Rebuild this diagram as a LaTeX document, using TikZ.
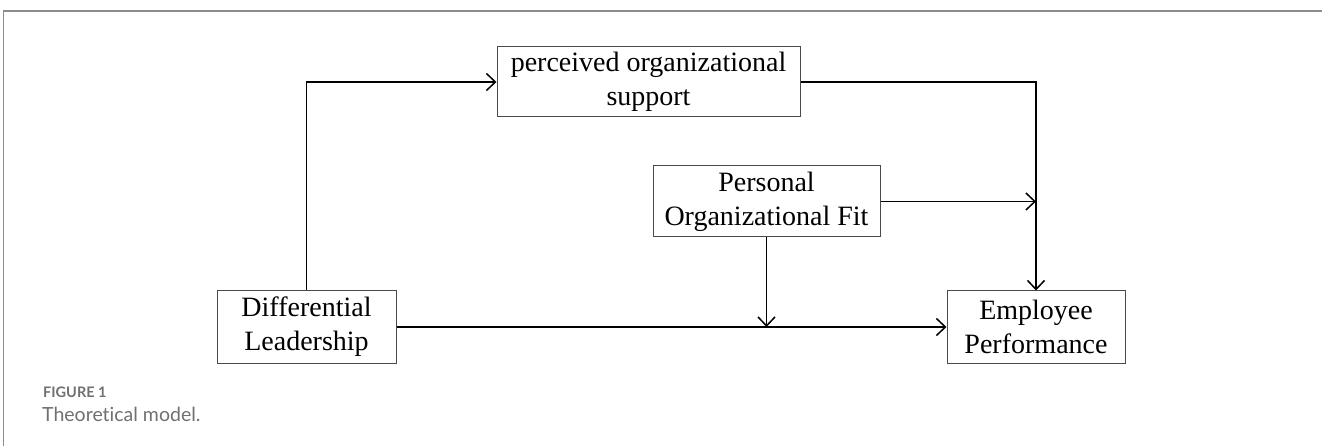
\documentclass[tikz,border=0pt]{standalone}
\usepackage{fontspec}
\setmainfont{Liberation Serif}
\newfontfamily\capfont[Ligatures={NoCommon}]{Lato}
\usetikzlibrary{arrows.meta}
\definecolor{framegray}{HTML}{8C8C8C}
\definecolor{capgray}{HTML}{707070}
\definecolor{boxgray}{HTML}{4A4A4A}
\tikzset{
  box/.style={draw=boxgray, line width=1pt, align=center, inner sep=0pt,
    font=\fontsize{28}{34}\selectfont, text=black},
  arr/.style={draw=black, line width=1.5pt, -{Straight Barb[length=9pt,width=17pt,line width=1.5pt]}},
  frameline/.style={draw=framegray, line width=1.3pt}
}
\begin{document}
\begin{tikzpicture}[x=1pt,y=-1pt]
\useasboundingbox (0,0) rectangle (1322,446);
% frame
\coordinate (fl) at (3.5,446);
\coordinate (fc) at (3.5,11);
\coordinate (fr) at (1322,11);
\draw[frameline] (fl) -- (fc) -- (fr);
% boxes
\node[box, minimum width=179pt, minimum height=72pt] (DL) at (306.5,327) {Differential\\Leadership};
\node[box, minimum width=303pt, minimum height=70pt] (POS) at (648.5,82) {perceived organizational\\support};
\node[box, minimum width=227pt, minimum height=71pt] (POF) at (766.5,201.5) {Personal\\Organizational Fit};
\node[box, minimum width=178pt, minimum height=72pt] (EP) at (1036,327) {Employee\\Performance};
% connectors
\draw[arr] (DL.north) |- (POS.west);
\draw[arr] (POS.east) -| (EP.north);
\coordinate (j1) at (POF.east -| EP.north);
\draw[arr] (POF.east) -- (j1);
\coordinate (j2) at (POF.south |- DL.east);
\draw[arr] (POF.south) -- (j2);
\draw[arr] (DL.east) -- (EP.west);
% caption
\node[anchor=base west, inner sep=0pt, text=capgray, font=\capfont\bfseries\fontsize{14.5}{16}\selectfont] (cap1) at (43,397) {FIGURE 1};
\node[anchor=base west, inner sep=0pt, text=capgray, font=\capfont\fontsize{19.5}{22}\selectfont] (cap2) at (42,421) {Theoretical model.};
\end{tikzpicture}
\end{document}
